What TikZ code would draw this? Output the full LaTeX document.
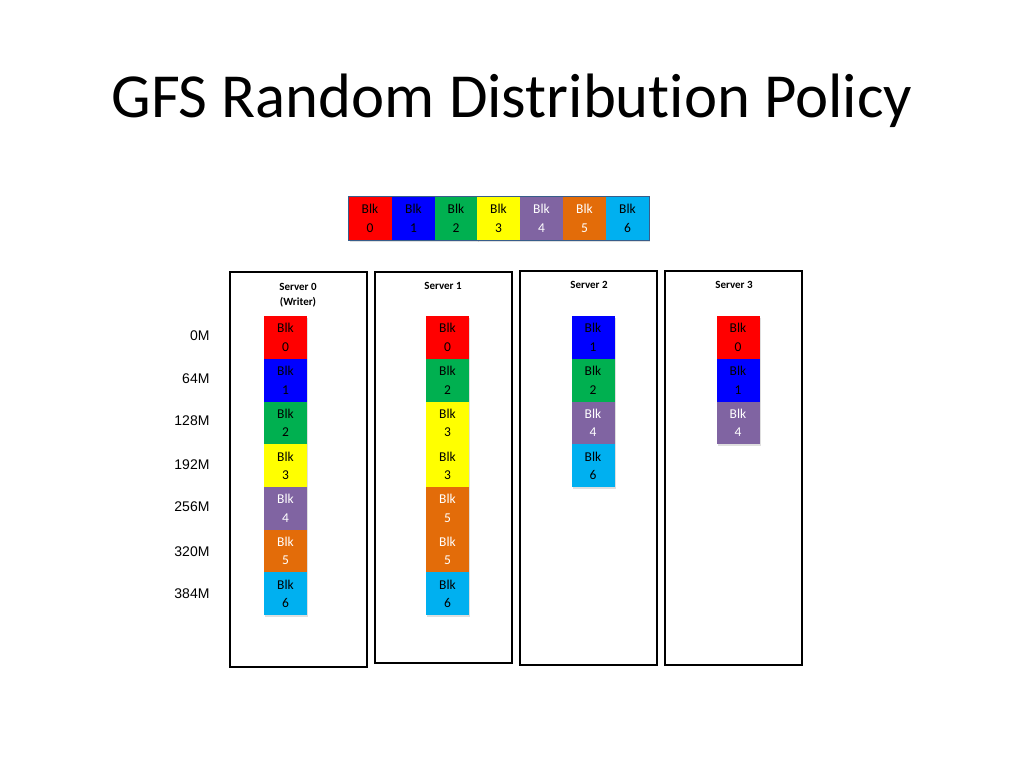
\documentclass[tikz,border=0pt]{standalone}
\usepackage{fontspec}
\setmainfont{Carlito}[Ligatures=NoCommon]
\newfontfamily\arialf{Liberation Sans}
\usetikzlibrary{shadows}
\definecolor{c0}{HTML}{FF0000}
\definecolor{c1}{HTML}{0000FF}
\definecolor{c2}{HTML}{00B050}
\definecolor{c3}{HTML}{FFFF00}
\definecolor{c4}{HTML}{8064A2}
\definecolor{c5}{HTML}{E36C09}
\definecolor{c6}{HTML}{00B0F0}
\definecolor{stripline}{HTML}{385D8A}
\colorlet{t0}{black}
\colorlet{t1}{black}
\colorlet{t2}{black}
\colorlet{t3}{black}
\colorlet{t4}{white}
\colorlet{t5}{white}
\colorlet{t6}{black}
\begin{document}
\begin{tikzpicture}[x=1pt,y=-1pt,
  blk/.style={minimum width=43pt, minimum height=42.7pt, inner sep=0pt, align=center,
    font=\fontsize{13.5}{18.5}\selectfont, anchor=north,
    drop shadow={shadow xshift=1pt, shadow yshift=-2pt, opacity=0.25}},
  server/.style={draw=black, line width=2pt, fill=white},
  slabel/.style={font=\fontsize{11}{15}\selectfont\bfseries, align=center, anchor=north},
  mlabel/.style={font=\arialf\fontsize{14}{16}\selectfont, anchor=east}]
\useasboundingbox[fill=white] (0,0) rectangle (1024,768);
\node (title) at (512,101) {\fontsize{62.7}{75}\selectfont GFS Random Distribution Policy};
% top row
\foreach \i/\x in {0/370,1/413.5,2/456,3/498.5,4/541.5,5/584.5,6/627.5}{
  \node[blk, fill=c\i, text=t\i, minimum height=44pt] (t\i) at (\x,196) {Blk\\\i};
}
\draw[stripline, line width=0.8pt] (t0.north west) rectangle (t6.south east);
% servers
\draw[server] (230,272) rectangle (367,667);
\draw[server] (375,272) rectangle (512,663);
\draw[server] (520,271) rectangle (657,665);
\draw[server] (665,271) rectangle (802,665);
\node[slabel] (s0l) at (298,280) {Server 0\\(Writer)};
\node[slabel] (s1l) at (443,279) {Server 1};
\node[slabel] (s2l) at (589,278) {Server 2};
\node[slabel] (s3l) at (734,278) {Server 3};
% blocks
\foreach \b [count=\r from 0] in {0,1,2,3,4,5,6}{
  \node[blk, fill=c\b, text=t\b] (s0b\r) at (285.5,316+42.7*\r) {Blk\\\b};
}
\foreach \b [count=\r from 0] in {0,2,3,3,5,5,6}{
  \node[blk, fill=c\b, text=t\b] (s1b\r) at (447.5,316+42.7*\r) {Blk\\\b};
}
\foreach \b [count=\r from 0] in {1,2,4,6}{
  \node[blk, fill=c\b, text=t\b] (s2b\r) at (593,316+42.7*\r) {Blk\\\b};
}
\foreach \b [count=\r from 0] in {0,1,4}{
  \node[blk, fill=c\b, text=t\b] (s3b\r) at (738,316+42.7*\r) {Blk\\\b};
}
% offsets
\node[mlabel] (m0) at (213,336) {0M};
\node[mlabel] (m1) at (213,379) {64M};
\node[mlabel] (m2) at (213,421) {128M};
\node[mlabel] (m3) at (213,465) {192M};
\node[mlabel] (m4) at (213,507) {256M};
\node[mlabel] (m5) at (213,552) {320M};
\node[mlabel] (m6) at (213,594) {384M};
\end{tikzpicture}
\end{document}
